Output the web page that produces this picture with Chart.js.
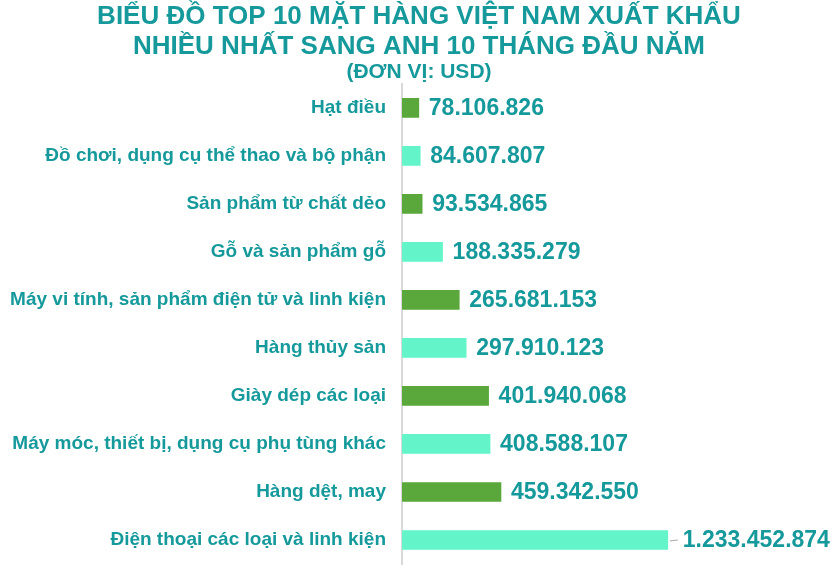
<!DOCTYPE html>
<html>
<head>
<meta charset="utf-8">
<script src="https://cdn.jsdelivr.net/npm/chart.js@4/dist/chart.umd.min.js"></script>
<style>
  html, body { margin: 0; padding: 0; background: #fff; }
  #wrap { width: 837px; height: 577px; }
</style>
</head>
<body>
<div id="wrap"><canvas id="c"></canvas></div>
<script>
// Du lieu (USD)
const categories = [
  "Hạt điều",
  "Đồ chơi, dụng cụ thể thao và bộ phận",
  "Sản phẩm từ chất dẻo",
  "Gỗ và sản phẩm gỗ",
  "Máy vi tính, sản phẩm điện tử và linh kiện",
  "Hàng thủy sản",
  "Giày dép các loại",
  "Máy móc, thiết bị, dụng cụ phụ tùng khác",
  "Hàng dệt, may",
  "Điện thoại các loại và linh kiện"
];
const values = [78106826, 84607807, 93534865, 188335279, 265681153, 297910123, 401940068, 408588107, 459342550, 1233452874];
const valueLabels = ["78.106.826", "84.607.807", "93.534.865", "188.335.279", "265.681.153", "297.910.123", "401.940.068", "408.588.107", "459.342.550", "1.233.452.874"];

const TEAL = "#15999b";
const GREEN = "#5aa83c";
const MINT = "#63f5c9";
const barColors = values.map((v, i) => i % 2 == 0 ? GREEN : MINT);

//Nhan gia tri ben phai cot.
const valuePlugin = {
  id: "valueLabels",
  afterDatasetsDraw(chart){
    const ctx = chart.ctx;
    const meta = chart.getDatasetMeta(0);
    ctx.save();
    ctx.font = "bold 23px 'Liberation Sans', Arial, sans-serif";
    ctx.fillStyle = TEAL;
    ctx.textBaseline = "middle";
    meta.data.forEach((bar, i) => {
      let x = bar.x + 10;
      if(i == values.length - 1){
        //Duong dan cho nhan cuoi.
        ctx.strokeStyle = "#a6a6a6";
        ctx.lineWidth = 1;
        ctx.beginPath();
        ctx.moveTo(bar.x + 2, bar.y + 1);
        ctx.lineTo(bar.x + 10, bar.y);
        ctx.stroke();
        x = bar.x + 15;
      }
      ctx.fillText(valueLabels[i], x, bar.y + 1);
    });
    ctx.restore();
  }
};

new Chart(document.getElementById("c"), {
  type: "bar",
  data: {
    labels: categories,
    datasets: [{
      data: values,
      backgroundColor: barColors,
      barThickness: 19
    }]
  },
  options: {
    indexAxis: "y",
    responsive: true,
    maintainAspectRatio: false,
    animation: false,
    layout: { padding: { left: 5, right: 4, top: 0, bottom: 13 } },
    plugins: {
      legend: { display: false },
      tooltip: { enabled: false },
      title: {
        display: true,
        text: ["BIỂU ĐỒ TOP 10 MẶT HÀNG VIỆT NAM XUẤT KHẨU", "NHIỀU NHẤT SANG ANH 10 THÁNG ĐẦU NĂM"],
        color: TEAL,
        font: { family: "'Liberation Sans', Arial, sans-serif", size: 26, weight: "bold", lineHeight: 1.15 },
        padding: { top: 2, bottom: 0 }
      },
      subtitle: {
        display: true,
        text: "(ĐƠN VỊ: USD)",
        color: TEAL,
        font: { family: "'Liberation Sans', Arial, sans-serif", size: 21, weight: "bold", lineHeight: 1.0 },
        padding: { top: 0, bottom: 1 }
      }
    },
    scales: {
      x: {
        display: false,
        min: 0,
        max: 2000000000
      },
      y: {
        afterFit: s => {
          s.width = 397;
          s.paddingTop = 0;
          s.paddingBottom = 0;
        },
        grid: { display: false, drawTicks: false },
        border: { display: true, color: "#d9d9d9", width: 2 },
        ticks: {
          color: TEAL,
          padding: 16,
          font: { family: "'Liberation Sans', Arial, sans-serif", size: 19, weight: "bold" }
        }
      }
    }
  },
  plugins: [valuePlugin]
});
</script>
</body>
</html>
